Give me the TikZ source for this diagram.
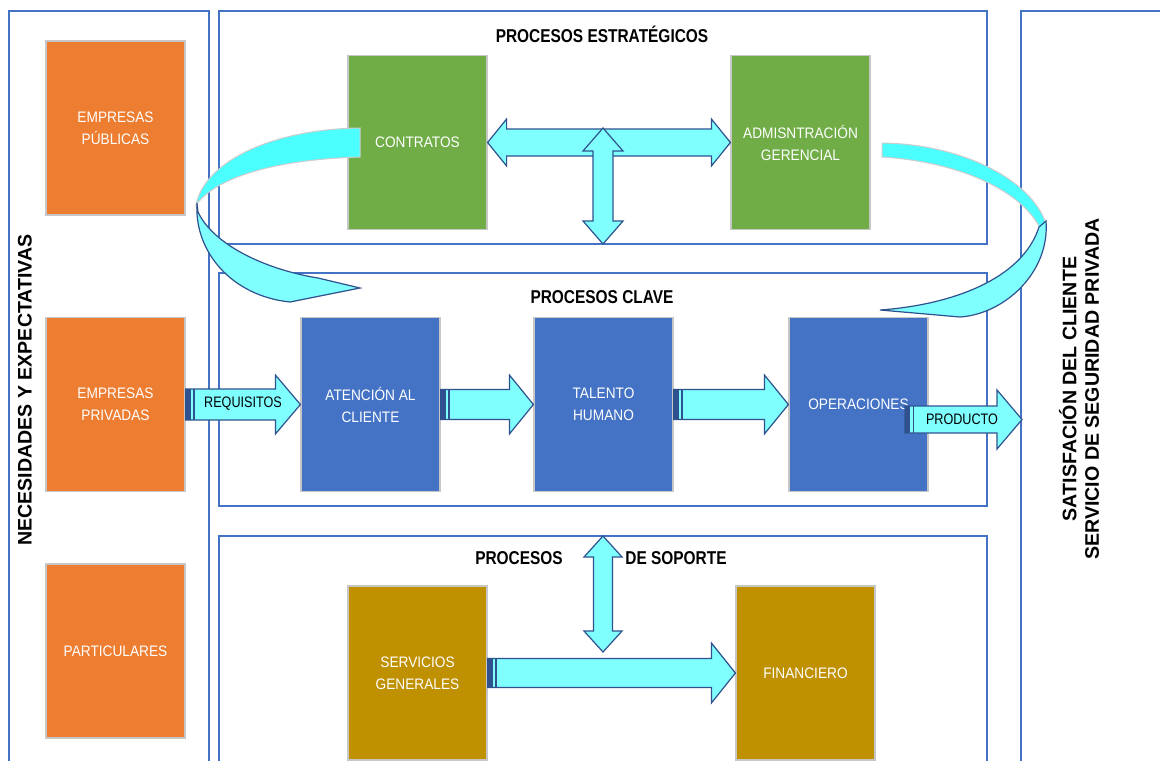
\documentclass[tikz,border=0pt]{standalone}
\usepackage{fontspec}
\setmainfont{Liberation Sans}
\newfontfamily\boxfont[FakeStretch=0.9]{Liberation Sans}
\newfontfamily\headfont[FakeStretch=0.83]{Liberation Sans}
\newfontfamily\sidefont[FakeStretch=1.0]{Liberation Sans}
\usetikzlibrary{calc}

\definecolor{frameblue}{HTML}{4472C4}
\definecolor{orangefill}{HTML}{ED7D31}
\definecolor{greenfill}{HTML}{70AD47}
\definecolor{bluefill}{HTML}{4472C4}
\definecolor{goldfill}{HTML}{BF9000}
\definecolor{aqua}{HTML}{80FFFF}
\definecolor{aquadeep}{HTML}{4CFFFF}
\definecolor{arrowedge}{HTML}{2F528F}

\tikzset{
  frame/.style={draw=frameblue, line width=0.8pt},
  procbox/.style={minimum width=69.5pt, minimum height=87pt, inner sep=0pt,
    draw=black!22, line width=0.6pt, text=white, align=center,
    font=\boxfont\fontsize{7.6}{11}\selectfont},
  orangebox/.style={procbox, fill=orangefill},
  greenbox/.style={procbox, fill=greenfill},
  bluebox/.style={procbox, fill=bluefill},
  goldbox/.style={procbox, fill=goldfill},
  sectiontitle/.style={font=\headfont\bfseries\fontsize{9.3}{11}\selectfont},
  sidetitle/.style={rotate=90, align=center, font=\sidefont\bfseries\fontsize{9.8}{11.3}\selectfont},
  blockarrow/.style={fill=aqua, draw=arrowedge, line width=0.6pt, line join=miter},
  arrowlabel/.style={font=\headfont\fontsize{7.6}{9}\selectfont, inner sep=0pt},
  ribbonlight/.style={fill=aquadeep, draw=black!20, line width=0.5pt},
  ribbondark/.style={fill=aqua, draw=arrowedge, line width=0.6pt},
}

% block arrow pointing right: start, tip, shaft half-height, head half-height, head length
\newcommand\rightblock[5]{%
  \draw[blockarrow] ($(#1)+(0,#3)$) -- ($(#2)+(-#5,#3)$) -- ($(#2)+(-#5,#4)$) -- (#2)
    -- ($(#2)+(-#5,-#4)$) -- ($(#2)+(-#5,-#3)$) -- ($(#1)+(0,-#3)$) -- cycle;
  \fill[arrowedge] ($(#1)+(0,-#3)$) rectangle ($(#1)+(5,#3)$);
  \draw[arrowedge, line width=0.9pt] ($(#1)+(8.5,-#3)$) -- ($(#1)+(8.5,#3)$);}

% horizontal double block arrow: left tip, right tip, shaft half, head half, head length
\newcommand\hdouble[5]{%
  \draw[blockarrow] (#1) -- ($(#1)+(#5,-#4)$) -- ($(#1)+(#5,-#3)$) -- ($(#2)+(-#5,-#3)$)
    -- ($(#2)+(-#5,-#4)$) -- (#2) -- ($(#2)+(-#5,#4)$) -- ($(#2)+(-#5,#3)$)
    -- ($(#1)+(#5,#3)$) -- ($(#1)+(#5,#4)$) -- cycle;}

% vertical double block arrow: top tip, bottom tip, shaft half, head half, head length
\newcommand\vdouble[5]{%
  \draw[blockarrow] (#1) -- ($(#1)+(#4,#5)$) -- ($(#1)+(#3,#5)$) -- ($(#2)+(#3,-#5)$)
    -- ($(#2)+(#4,-#5)$) -- (#2) -- ($(#2)+(-#4,-#5)$) -- ($(#2)+(-#3,-#5)$)
    -- ($(#1)+(-#3,#5)$) -- ($(#1)+(-#4,#5)$) -- cycle;}

\begin{document}
\begin{tikzpicture}[x=0.5pt, y=-0.5pt]
  \useasboundingbox (0,0) rectangle (1160,760);
  \clip (0,0) rectangle (1160,760);
  \fill[white] (0,0) rectangle (1160,760);

  % frames
  \draw[frame] (9,11) rectangle (209,790);
  \draw[frame] (219,11) rectangle (987,244);
  \draw[frame] (219,273) rectangle (987,506);
  \draw[frame] (219,536) rectangle (987,790);
  \draw[frame] (1021,11) rectangle (1200,790);

  % side titles
  \node[sidetitle] (needs) at (25,390) {NECESIDADES Y EXPECTATIVAS};
  \node[sidetitle] (satis) at (1079,389) {SATISFACIÓN DEL CLIENTE\\SERVICIO DE SEGURIDAD PRIVADA};

  % section titles
  \node[sectiontitle] (tstrat) at (602,34) {PROCESOS ESTRATÉGICOS};
  \node[sectiontitle] (tclave) at (602,297) {PROCESOS CLAVE};
  \node[sectiontitle] (tsop1) at (519,558) {PROCESOS};
  \node[sectiontitle] (tsop2) at (676,558) {DE SOPORTE};

  % client groups
  \node[orangebox] (pub)  at (115.5,128)   {EMPRESAS\\PÚBLICAS};
  \node[orangebox] (priv) at (115.5,404.5) {EMPRESAS\\PRIVADAS};
  \node[orangebox] (part) at (115.5,651)   {PARTICULARES};

  % strategic processes
  \node[greenbox] (contr) at (417.5,142.5) {CONTRATOS};
  \node[greenbox] (admin) at (800.5,142.5) {ADMISNTRACIÓN\\GERENCIAL};

  % key processes
  \node[bluebox] (atn) at (370.5,404.5) {ATENCIÓN AL\\CLIENTE};
  \node[bluebox] (tal) at (603.5,404.5) {TALENTO\\HUMANO};
  \node[bluebox] (ope) at (858.5,404.5) {};
  \node[font=\boxfont\fontsize{7.6}{11}\selectfont, text=white] (opetxt) at (858.5,404) {OPERACIONES};

  % support processes
  \node[goldbox] (serv) at (417.5,673) {SERVICIOS\\GENERALES};
  \node[goldbox] (fin)  at (805.5,673) {FINANCIERO};

  % curved return arrows
  \path[ribbonlight] (360,128) .. controls (275,129) and (205,160) .. (196,205)
    .. controls (212,182) and (262,160) .. (360,157) -- cycle;
  \path[ribbondark] (197,203) .. controls (194,252) and (232,296) .. (290,302)
    -- (360,288) -- (318,278) .. controls (268,270) and (214,246) .. (198,212) -- cycle;

  \path[ribbonlight] (882,143) .. controls (962,144) and (1032,180) .. (1046,224)
    -- (1040,228) .. controls (1022,192) and (962,162) .. (882,157) -- cycle;
  \path[ribbondark] (1046,221) .. controls (1050,272) and (1005,314) .. (960,317)
    -- (880,310) .. controls (950,305) and (1022,280) .. (1039,227) -- cycle;

  % strategic connectors
  \hdouble{contr.east}{admin.west}{13.5}{23.5}{19}
  \coordinate (stratTop) at (603,128);
  \coordinate (stratBot) at (603,244);
  \vdouble{stratTop}{stratBot}{10}{20}{23}

  % key process chain
  \coordinate (reqStart) at (priv.east);
  \rightblock{reqStart}{atn.west}{15.5}{29.5}{25}
  \node[arrowlabel] (req) at (243,404) {REQUISITOS};
  \rightblock{atn.east}{tal.west}{15}{29.5}{24}
  \rightblock{tal.east}{ope.west}{15}{29.5}{24}
  \coordinate (prodStart) at (905,419.5);
  \coordinate (prodTip) at (1022,419.5);
  \rightblock{prodStart}{prodTip}{13.5}{29.5}{25}
  \node[arrowlabel] (prod) at (962,419) {PRODUCTO};

  % support connectors
  \coordinate (supTop) at (603,536);
  \coordinate (supBot) at (603,652);
  \vdouble{supTop}{supBot}{9.5}{19}{21}
  \rightblock{serv.east}{fin.west}{14.5}{30}{24}
\end{tikzpicture}
\end{document}
